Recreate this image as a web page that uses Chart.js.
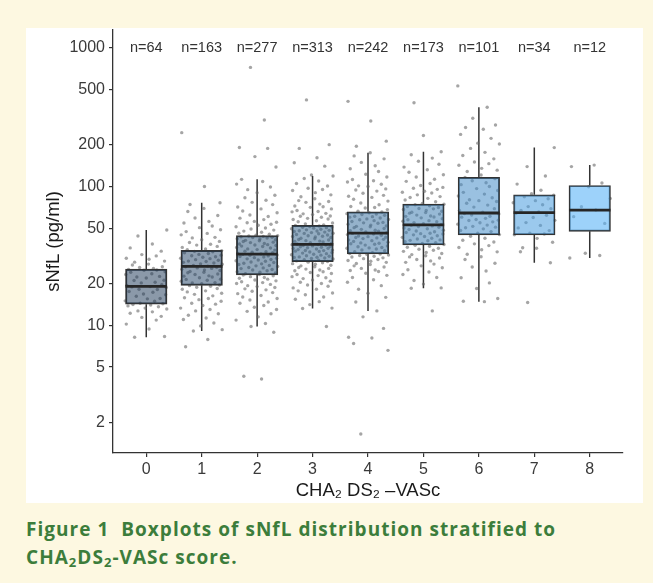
<!DOCTYPE html>
<html><head><meta charset="utf-8">
<script src="https://cdn.jsdelivr.net/npm/chart.js@4.4.1/dist/chart.umd.min.js"></script>
<style>
html,body{margin:0;padding:0;background:#fdf8e1;}
body{width:653px;height:583px;position:relative;overflow:hidden;}
#panel{position:absolute;left:26px;top:28px;width:617px;height:475px;background:#fff;}
#caption{position:absolute;left:26px;top:515px;width:624px;font-family:"Open Sans",Lato,sans-serif;font-weight:bold;font-size:19px;line-height:28px;color:#3c7d3b;white-space:nowrap;}
#caption sub{font-size:13px;vertical-align:-3px;line-height:0;}
</style></head>
<body>
<div id="panel"><canvas id="c" width="617" height="475"></canvas></div>
<div id="caption"><span id="cap1">Figure 1&nbsp; Boxplots of sNfL distribution stratified to</span><br>CHA<sub>2</sub>DS<sub>2</sub>-VASc score.</div>
<script>
// ---------- data ----------
const CATS = [0,1,2,3,4,5,6,7,8];
const N_COUNTS = [64,163,277,313,242,173,101,34,12];
const Q1  = [14.2,19.4,23.1,28.7,32.7,37.9,44.7,44.7,47.5];
const MED = [19.1,26.6,32.5,38.3,46.1,52.8,64.4,64.7,67.6];
const Q3  = [25.4,34.7,44.2,52.5,65.6,74.6,116.4,87.1,101.6];
const WLO = [8.2,9.1,9.8,13.2,12.7,18.5,14.8,28.2,30.5];
const WHI = [48.6,76.4,112.5,119,175,178,372,190.5,142.5];
const Y_TICKS = [2,5,10,20,50,100,200,500,1000];

const P0 = [8.2,8.3,9.4,10.2,10.9,11.4,11.6,12.2,12.5,12.7,13.1,13.3,13.6,13.8,14.0,14.1,
 14.3,14.4,14.9,15.0,15.5,15.6,16.2,16.6,16.8,17.3,17.5,18.1,18.2,18.7,18.9,19.0,
 19.4,19.6,20.2,20.4,21.0,21.1,21.9,22.3,22.5,23.2,23.5,24.1,24.3,24.9,25.0,25.3,
 25.7,26.1,26.4,27.2,27.6,28.5,29.0,29.9,30.4,31.6,32.3,34.2,36.1,38.5,44.0,48.6];
const P1 = [7.0,7.9,9.1,9.3,9.9,10.4,11.0,11.3,11.8,12.1,12.7,13.0,13.3,13.9,14.2,14.4,14.9,15.3,15.6,15.8,16.3,16.7,17.0,17.4,17.7,18.2,18.4,18.8,19.1,19.3,
 19.5,19.9,20.2,20.3,20.8,21.1,21.4,21.5,22.0,22.3,22.6,22.7,23.2,23.4,23.9,24.1,24.4,24.8,25.0,25.3,25.7,25.9,26.2,26.4,
 26.7,27.0,27.5,27.7,28.1,28.4,28.8,29.0,29.4,29.7,30.2,30.4,30.9,31.2,31.7,32.0,32.4,32.9,33.3,33.8,34.1,34.5,
 35.1,35.5,36.4,37.0,37.8,38.3,39.5,40.2,41.3,42.6,43.0,44.8,45.9,47.3,48.8,50.5,51.9,54.6,56.0,59.3,61.8,66.0,69.5,74.2,76.4,100,244];
const P2 = [4.1,4.3,8.9,9.8,10.3,10.9,11.5,12.1,12.6,13.0,13.5,13.9,14.4,14.7,15.2,15.6,16.0,16.4,16.9,17.2,17.6,18.0,18.3,18.7,19.0,19.3,19.7,20.0,20.3,20.6,20.9,21.2,21.5,21.8,22.1,22.4,22.7,23.0,
 23.2,23.5,23.8,24.1,24.3,24.7,25.0,25.2,25.6,25.9,26.1,26.5,26.8,27.0,27.4,27.7,28.0,28.3,28.6,28.9,29.2,29.5,29.8,30.1,30.4,30.7,31.0,31.3,31.6,31.9,32.1,32.4,
 32.7,33.1,33.4,33.6,33.9,34.2,34.8,35.1,35.5,36.0,36.3,36.9,37.2,37.6,37.9,38.1,38.5,38.8,39.4,39.7,40.1,40.6,40.9,41.3,41.8,42.0,42.5,42.8,43.1,43.4,43.7,44.0,44.1,
 44.6,45.3,46.1,46.8,47.7,48.5,49.4,50.2,51.3,52.5,53.4,54.8,55.2,56.0,57.7,59.1,60.8,62.3,64.6,66.5,68.9,71.2,74.0,76.8,79.5,83.0,86.4,90.1,94.8,99.0,104.0,108.5,112.5,
 138,164,188,191,301,720];
const P3 = [9.8,13.2,13.3,14.1,14.8,15.4,16.0,16.6,17.1,17.7,18.2,18.6,19.1,19.5,20.0,20.4,20.8,21.2,21.7,22.0,22.4,22.8,23.2,23.6,24.0,24.3,24.7,25.0,25.4,25.7,26.1,26.4,26.8,27.1,27.5,27.8,28.2,28.5,
 28.8,29.1,29.4,29.7,30.0,30.3,30.5,30.8,30.9,31.1,31.4,31.7,32.0,32.2,32.5,32.8,33.1,33.4,33.7,34.0,34.2,34.5,34.6,34.8,35.1,35.4,35.7,35.9,36.2,36.5,36.8,37.0,37.3,37.6,37.8,38.0,38.2,
 38.5,38.9,39.3,39.8,40.2,40.4,40.7,41.1,41.5,42.0,42.4,42.9,43.3,43.6,43.8,44.2,44.7,45.1,45.6,45.9,46.0,46.5,46.9,47.4,47.8,48.0,48.3,48.7,49.2,49.6,50.1,50.5,50.8,51.0,51.4,51.9,52.3,
 52.9,53.8,54.6,55.7,56.6,57.8,58.3,58.9,60.0,61.0,61.3,62.7,63.5,64.0,65.6,66.0,67.1,68.9,70.7,71.5,72.4,74.6,76.8,77.9,79.1,81.6,84.3,87.0,90.2,93.5,95.0,97.1,100.8,105.0,109.4,114.0,119.0,
 121,140,148,161,188,200,420];
const P4 = [1.65,6.6,7.4,8.1,8.2,9.5,11.5,12.7,14.7,15.9,17.0,18.2,19.3,20.4,21.3,22.1,22.9,23.7,24.4,24.8,25.0,25.7,26.3,26.8,27.4,27.9,28.4,28.9,29.3,29.8,30.2,30.6,31.0,31.4,31.8,32.1,32.4,32.6,
 32.9,33.4,33.9,34.4,34.9,35.4,35.9,36.1,36.3,36.8,37.3,37.8,38.3,38.7,39.0,39.2,39.7,40.2,40.7,41.1,41.6,42.1,42.6,42.9,43.1,43.5,44.0,44.5,45.0,45.5,45.9,
 46.4,47.0,47.7,48.0,48.4,49.1,49.8,50.5,51.2,51.6,52.0,52.7,53.5,54.3,54.7,55.1,55.9,56.7,57.5,57.9,58.4,59.3,60.1,60.6,61.0,61.9,62.8,63.2,63.7,64.7,65.4,
 66.4,68.1,69.9,70.5,71.8,73.9,76.0,78.4,80.8,83.4,85.0,86.3,89.4,92.6,94.4,96.0,99.8,101.0,103.6,107.7,110.0,112.2,117.1,122.4,128.0,134.0,141.0,149.0,158.0,166.0,175.0,
 195,212,296,410];
const P5 = [12.7,18.5,18.6,19.8,21.0,22.1,23.2,24.2,25.1,26.0,26.8,27.6,28.4,29.1,29.8,30.5,31.1,31.7,32.3,32.9,33.5,34.1,34.7,35.3,35.9,36.5,37.1,37.7,
 38.2,38.8,39.4,40.0,40.6,40.9,41.2,41.8,42.4,43.0,43.6,44.2,44.8,45.4,45.7,46.0,46.6,47.2,47.8,48.4,49.0,49.6,50.2,50.8,51.4,52.0,52.5,
 53.2,54.0,54.9,55.8,56.2,56.7,57.6,58.5,59.4,60.3,60.9,61.2,62.2,63.2,64.2,64.8,65.2,66.2,67.2,68.3,69.0,69.4,70.5,71.6,72.7,73.8,74.4,
 75.5,77.6,79.8,82.1,83.3,84.5,87.0,89.6,90.8,92.4,95.3,97.0,98.4,101.6,105.1,108.8,112.8,117.0,121.5,126.4,131.8,137.8,144.5,152.0,160.0,169.0,178.0,
 233,401];
const P6 = [14.8,14.9,15.6,18.4,20.2,22.0,24.6,26.3,28.0,29.8,31.2,32.5,33.8,35.0,36.3,37.5,38.6,39.8,41.0,42.4,43.8,
 45.0,46.1,47.3,48.2,49.5,50.4,50.9,51.6,52.7,53.5,54.8,55.6,56.9,57.2,57.8,58.9,60.1,61.0,62.2,63.3,63.9,
 65.3,67.1,69.2,71.0,73.4,75.6,78.0,79.0,80.2,82.9,85.4,88.1,90.7,93.6,96.5,99.8,103.0,106.4,110.0,113.8,116.0,
 121,128,131,135,142,146,150,158,167,176,188,202,205,222,237,258,266,277,310,372,530];
const P7 = [14.6,28.2,33.9,35.9,36.2,39.6,42.3,44.9,45.5,46.0,48.1,50.3,52.4,54.9,57.0,59.8,62.0,64.0,65.4,67.3,69.1,71.6,73.8,76.4,79.0,81.5,84.2,86.5,88.6,94.0,104.0,119.0,139.0,190.5];
const P8 = [30.5,31.8,33.0,54.2,60.6,67.6,71.4,82.0,99.6,106.0,139.0,142.5];
const POINTS = [P0,P1,P2,P3,P4,P5,P6,P7,P8];

// ---------- style ----------
const JITTER = [-0.21,0.33,0.05,-0.36,0.18,-0.08,0.27,-0.29,0.11,-0.15,0.37,-0.02,0.22,-0.33,0.08,-0.24,0.30,-0.11,0.15,-0.38,0.02,0.25,-0.18,0.35,-0.05,0.12,-0.31,0.20,-0.13,0.36,-0.26,0.07,-0.35,0.28,-0.09,0.16,-0.22,0.32,0.00,-0.17,0.24,-0.37,0.10,-0.28,0.34,-0.04,0.19,-0.32,0.13,-0.12,0.29,-0.25,0.04];
const BOX_FILL = ['rgba(24,52,84,0.5)','rgba(30,64,100,0.5)','rgba(36,77,116,0.5)','rgba(43,92,134,0.51)','rgba(51,107,155,0.52)','rgba(59,123,176,0.53)','rgba(68,141,199,0.54)','rgba(77,159,223,0.56)','rgba(86,177,247,0.58)'];
const FONT = '"Liberation Sans", Arial, Helvetica, sans-serif';
Chart.defaults.font.family = FONT;

// fit caption first line to the reference width
(function(){
  const el = document.getElementById('cap1');
  const w = el.getBoundingClientRect().width;
  const target = 530;
  const chars = el.textContent.length;
  document.getElementById('caption').style.letterSpacing = ((target - w) / chars).toFixed(2) + 'px';
})();

const pointData = [];
POINTS.forEach((arr, ci) => {
  arr.forEach((v, k) => {
    pointData.push({x: CATS[ci] + JITTER[(k + ci * 7) % JITTER.length], y: v});
  });
});
const boxData = CATS.map((c, i) => ({x: c, y: [Q1[i], Q3[i]]}));

const boxExtras = {
  id: 'boxExtras',
  beforeDatasetsDraw(chart) {
    const {ctx, scales: {x, y}} = chart;
    ctx.save();
    ctx.strokeStyle = '#333';
    ctx.lineWidth = 1.5;
    CATS.forEach((c, i) => {
      const px = x.getPixelForValue(c);
      ctx.beginPath();
      ctx.moveTo(px, y.getPixelForValue(WHI[i]));
      ctx.lineTo(px, y.getPixelForValue(Q3[i]));
      ctx.moveTo(px, y.getPixelForValue(Q1[i]));
      ctx.lineTo(px, y.getPixelForValue(WLO[i]));
      ctx.stroke();
    });
    ctx.restore();
  },
  afterDatasetDraw(chart, args) {
    if (args.index !== 1) return;
    const {ctx, scales: {y}} = chart;
    const meta = chart.getDatasetMeta(1);
    ctx.save();
    ctx.strokeStyle = '#262626';
    ctx.lineWidth = 2.8;
    meta.data.forEach((bar, i) => {
      const py = y.getPixelForValue(MED[i]);
      ctx.beginPath();
      ctx.moveTo(bar.x - bar.width / 2, py);
      ctx.lineTo(bar.x + bar.width / 2, py);
      ctx.stroke();
    });
    ctx.restore();
  },
  afterDraw(chart) {
    const {ctx, scales: {x, y}} = chart;
    ctx.save();
    ctx.fillStyle = '#333';
    ctx.font = '14.5px ' + FONT;
    ctx.textAlign = 'center';
    ctx.textBaseline = 'middle';
    const py = y.getPixelForValue(1000);
    CATS.forEach((c, i) => ctx.fillText('n=' + N_COUNTS[i], x.getPixelForValue(c), py));
    ctx.restore();
  }
};

new Chart(document.getElementById('c'), {
  type: 'bar',
  data: {
    datasets: [
      {type: 'scatter', data: pointData, pointRadius: 1.7, pointHoverRadius: 1.7,
       pointBackgroundColor: 'rgba(105,105,105,0.6)', pointBorderWidth: 0, order: 2},
      {type: 'bar', data: boxData, backgroundColor: BOX_FILL, borderColor: '#333',
       borderWidth: 1.3, borderSkipped: false, barThickness: 41.5, order: 1}
    ]
  },
  options: {
    responsive: false,
    animation: false,
    layout: {padding: {left: 0, right: 20, top: 2, bottom: 0}},
    plugins: {legend: {display: false}, tooltip: {enabled: false}},
    scales: {
      x: {
        type: 'linear', min: -0.6, max: 8.6, offset: false, bounds: 'data',
        afterBuildTicks: s => { s.ticks = CATS.map(v => ({value: v})); },
        afterFit: s => { s.height = 50; s.paddingLeft = 0; s.paddingRight = 0; },
        ticks: {callback: v => String(v), color: '#3a3a3a', font: {size: 16}, padding: 3, autoSkip: false, maxRotation: 0},
        grid: {drawOnChartArea: false, offset: false, tickLength: 4, color: '#333', lineWidth: 1.2},
        border: {display: true, color: '#333', width: 1.3},
        title: {display: true, text: 'CHA₂ DS₂ –VASc', color: '#1a1a1a', font: {size: 18.5}, padding: {top: 0, bottom: 1}}
      },
      y: {
        type: 'logarithmic', min: 1.203, max: 1339, beginAtZero: false, bounds: 'data',
        afterBuildTicks: s => { s.ticks = Y_TICKS.map(v => ({value: v})); },
        afterFit: s => { s.width = 87; s.paddingTop = 0; s.paddingBottom = 0; },
        ticks: {callback: v => String(v), color: '#3a3a3a', font: {size: 16}, padding: 4, autoSkip: false},
        grid: {drawOnChartArea: false, tickLength: 4, color: '#333', lineWidth: 1.2},
        border: {display: true, color: '#333', width: 1.3},
        title: {display: true, text: 'sNfL (pg/ml)', color: '#1a1a1a', font: {size: 18.5}, padding: {top: 17, bottom: 0}}
      }
    }
  },
  plugins: [boxExtras]
});
</script>
</body></html>
